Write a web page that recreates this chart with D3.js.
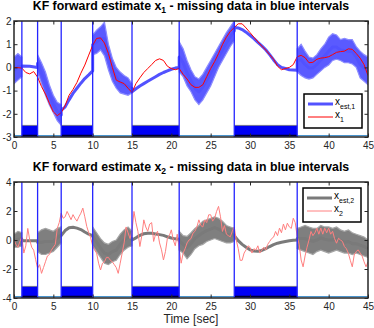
<!DOCTYPE html>
<html>
<head>
<meta charset="UTF-8">
<title>KF forward estimate</title>
<style>
  body { margin: 0; background: #fff; }
  svg { display: block; font-family: "Liberation Sans", Arial, sans-serif; }
  .axis text { font-size: 10px; fill: #262626; }
  .axis line { stroke: #262626; }
  .title { font-size: 12.3px; font-weight: bold; fill: #000; }
  .xlabel { font-size: 12px; fill: #262626; }
  .legend text { font-size: 10px; fill: #000; }
</style>
</head>
<body>
<script src="https://cdn.jsdelivr.net/npm/d3@7"></script>
<script>
// missing-data intervals [sec]
var gapStart = [1, 6, 15, 28];
var gapEnd   = [3, 10, 21, 36];

// true state x1, sampled every 0.5 s from 0 to 45
var x1Step = 0.5;
var x1 = [0.0, -0.01, -0.03, -0.22, -0.28, -0.18, -0.42, -0.83, -1.15, -1.55,
  -1.92, -2.08, -1.95, -1.65, -1.2, -0.95, -0.65, -0.25, 0.1, 0.53,
  0.95, 1.25, 1.27, 1.05, 0.6, 0.0, -0.55, -0.63, -0.7, -0.9,
  -1.08, -0.7, -0.45, -0.22, -0.05, 0.12, 0.3, 0.37, 0.3, 0.05,
  -0.05, -0.1, -0.05, -0.3, -0.5, -0.75, -0.86, -0.86, -0.75, -0.4,
  -0.05, 0.25, 0.6, 0.98, 1.3, 1.55, 1.72, 1.88, 1.88, 1.7,
  1.5, 1.3, 1.1, 0.92, 0.75, 0.55, 0.35, 0.05, -0.1, -0.05,
  0.0, 0.12, 0.46, 0.52, 0.42, 0.2, 0.22, 0.35, 0.4, 0.42,
  0.46, 0.55, 0.65, 0.68, 0.7, 0.8, 0.78, 0.6, 0.4, 0.12, -0.35];

// KF estimate of x1: time, lower and upper edge of the noisy trace
var est1T = [0, 0.5, 1, 1, 2, 3, 3, 3.5, 4, 4.5, 5, 5.5, 6,
  6, 6.5, 7, 7.5, 8, 8.5, 9, 9.5, 10,
  10, 10.5, 11, 11.5, 12, 12.5, 13, 13.5, 14, 14.5, 15,
  15, 15.5, 16, 16.5, 17, 17.5, 18, 18.5, 19, 19.5, 20, 20.5, 21,
  21, 21.5, 22, 22.5, 23, 23.5, 24, 24.5, 25, 25.5, 26, 26.5, 27, 27.5, 28,
  28, 28.5, 29, 29.5, 30, 30.5, 31, 31.5, 32, 32.5, 33, 33.5, 34, 34.5, 35, 35.5, 36,
  36, 36.5, 37, 37.5, 38, 38.5, 39, 39.5, 40, 40.5, 41, 41.5, 42, 42.5, 43, 43.5, 44, 44.5, 45];
var est1Lo = [-0.7, -0.55, -0.4, 0.06, 0.05, 0.0, -0.2, -0.7, -1.2, -1.62, -1.95, -2.3, -2.5,
  -1.85, -1.7, -1.4, -1.12, -0.9, -0.68, -0.48, -0.32, -0.15,
  0.55, 0.6, 0.75, 0.5, -0.1, -0.6, -0.9, -1.1, -1.15, -1.2, -1.1,
  -1.05, -0.92, -0.8, -0.7, -0.6, -0.5, -0.4, -0.3, -0.22, -0.15, -0.08, -0.03, 0.0,
  -0.2, -0.4, -0.8, -1.05, -1.4, -1.6, -1.4, -1.1, -0.8, -0.4, 0.0, 0.3, 0.6, 0.9, 1.15,
  1.72, 1.7, 1.63, 1.52, 1.38, 1.24, 1.08, 0.93, 0.76, 0.55, 0.32, 0.12, 0.0, -0.05, -0.1, -0.11, -0.12,
  -0.2, -0.35, -0.45, -0.5, -0.45, -0.3, -0.15, 0.0, 0.1, 0.3, 0.35, 0.3, 0.2, 0.2, 0.15, 0.0, -0.45, -0.6, -0.75];
var est1Hi = [0.45, 0.6, 0.45, 0.06, 0.05, 0.0, 0.55, 0.2, -0.2, -0.76, -1.2, -1.5, -1.6,
  -1.85, -1.7, -1.4, -1.12, -0.9, -0.68, -0.48, -0.32, -0.15,
  1.4, 1.6, 1.75, 1.95, 1.0, 0.4, 0.0, -0.2, -0.35, -0.45, -0.7,
  -1.05, -0.92, -0.8, -0.7, -0.6, -0.5, -0.4, -0.3, -0.22, -0.15, -0.08, -0.03, 0.0,
  1.1, 0.8, 0.3, -0.1, -0.4, -0.5, -0.3, 0.0, 0.3, 0.6, 0.9, 1.2, 1.5, 1.75, 2.0,
  1.72, 1.7, 1.63, 1.52, 1.38, 1.24, 1.08, 0.93, 0.76, 0.55, 0.32, 0.12, 0.0, -0.05, -0.1, -0.11, -0.12,
  0.8, 1.0, 0.7, 0.45, 0.4, 0.55, 0.8, 1.0, 1.3, 1.45, 1.4, 1.2, 1.25, 1.2, 1.2, 0.9, 0.7, 0.55, 0.45];

// true state x2, sampled every 0.25 s from 0 to 45
var x2Step = 0.25;
var x2 = [0.0, -0.3, -0.5, -0.1,  0.2, -0.9, -0.4, 0.8,  0.0, -0.5, -0.7, -1.35,
  -1.95, -1.7, -2.3, -1.9,  -1.5, -1.1, -1.0, -0.7,  -0.5, -0.3, 0.8, 1.2,
  1.85, 1.5, 1.6, 1.97,  1.7, 1.4, 1.75, 1.5,  1.3, 1.6, 1.85, 2.2,
  1.6, 0.93, 0.5, 0.15,  -0.4, -0.7, -0.9, -1.6,  -2.07, -1.6, -1.5, -1.2,
  -1.2, -1.4, -1.5, -1.7,  -1.9, -2.3, -1.6, -0.9,  -0.2, 0.9, 0.5, 0.1,
  0.6, 1.97, 1.2, 0.6,  -0.45, 0.3, 1.39, 0.9,  0.6, 1.1, 1.2, -0.1,
  0.4, 0.6, -0.2, -0.68,  -1.38, -0.8, 0.12, 0.3,  0.7, 0.0, -0.4, 0.4,
  -0.6, -1.6, -0.9, -0.6,  -0.2, 0.0, 0.1, 0.47,  0.6, 0.9, 1.39, 1.0,
  0.9, 1.39, 1.2, 1.74,  1.74, 1.3, 1.5, 1.97,  2.32, 1.6, 0.59, 1.0,
  0.4, 0.3, 0.22, 0.6,  0.9, 0.0, -0.58, -1.4,  -1.4, -0.9, -0.68, -0.4,
  -0.5, -0.9, -0.6, -0.7,  -0.4, -0.9, -0.7, -0.5,  -0.7, -0.3, -0.1, 0.1,
  0.2, 0.59, 0.3, 0.82,  0.5, 1.1, 0.7, 1.16,  0.9, 0.8, 1.5, 1.2,
  0.24, -0.3, -1.38, -1.85,  -1.1, -0.5, 0.0, 0.59,  0.3, 0.5, 0.82, 0.4,
  0.82, 0.4, 0.82, 0.5,  0.82, 0.4, 0.6, 0.1,  -0.22, 0.12, 0.0, -0.1,
  -0.45, -0.6, -0.91, -1.4,  -1.85, -1.03, -0.8, -0.68,  -0.9, -1.1, -1.5, -1.85,
  -1.5];

// KF estimate of x2: time, lower and upper edge of the noisy trace
var est2T = [0, 0.5, 1, 1, 3, 3, 3.5, 4, 4.5, 5, 5.5, 6,
  6, 6.5, 7, 7.5, 8, 8.5, 9, 9.5, 10,
  10, 10.5, 11, 11.5, 12, 12.5, 13, 13.5, 14, 14.5, 15,
  15, 15.5, 16, 16.5, 17, 17.5, 18, 18.5, 19, 19.5, 20, 20.5, 21,
  21, 21.5, 22, 22.5, 23, 23.5, 24, 24.5, 25, 25.5, 26, 26.5, 27, 27.5, 28,
  28, 28.5, 29, 29.5, 30, 30.5, 31, 31.5, 32, 32.5, 33, 33.5, 34, 34.5, 35, 35.5, 36,
  36, 36.5, 37, 37.5, 38, 38.5, 39, 39.5, 40, 40.5, 41, 41.5, 42, 42.5, 43, 43.5, 44, 44.5, 45];
var est2Lo = [-0.5, -0.5, -0.4, -0.05, -0.05, -0.8, -1.0, -1.0, -0.9, -0.8, -0.5, -0.2,
  0.3, 0.65, 0.85, 0.88, 0.82, 0.72, 0.55, 0.4, 0.3,
  -0.4, -0.8, -1.2, -1.6, -1.7, -1.5, -1.4, -1.0, -0.7, -0.5, -0.4,
  0.0, 0.15, 0.32, 0.43, 0.47, 0.47, 0.42, 0.37, 0.32, 0.22, 0.14, 0.08, 0.05,
  -0.7, -0.9, -1.3, -1.0, -0.6, -0.4, -0.3, -0.1, 0.0, 0.1, 0.0, -0.1, -0.2, -0.2, -0.1,
  0.3, -0.05, -0.3, -0.5, -0.68, -0.76, -0.78, -0.72, -0.6, -0.45, -0.32, -0.22, -0.15, -0.1, -0.05, -0.02, 0.0,
  -0.6, -0.7, -0.8, -0.9, -1.0, -0.8, -0.7, -0.8, -0.9, -0.8, -0.7, -0.8, -0.9, -0.9, -1.0, -0.9, -1.0, -1.1, -1.2];
var est2Hi = [0.4, 0.6, 0.5, -0.05, -0.05, 0.5, 0.7, 0.8, 0.7, 0.6, 0.8, 0.9,
  0.3, 0.65, 0.85, 0.88, 0.82, 0.72, 0.55, 0.4, 0.3,
  0.9, 0.5, 0.1, -0.2, -0.3, -0.1, 0.0, 0.4, 0.7, 0.9, 0.6,
  0.0, 0.15, 0.32, 0.43, 0.47, 0.47, 0.42, 0.37, 0.32, 0.22, 0.14, 0.08, 0.05,
  0.6, 0.3, 0.25, 0.5, 0.8, 1.0, 1.3, 1.4, 1.5, 1.6, 1.5, 1.3, 1.0, 0.9, 0.8,
  0.3, -0.05, -0.3, -0.5, -0.68, -0.76, -0.78, -0.72, -0.6, -0.45, -0.32, -0.22, -0.15, -0.1, -0.05, -0.02, 0.0,
  0.8, 0.9, 1.0, 0.9, 0.8, 0.8, 1.0, 0.9, 0.9, 0.8, 0.9, 0.7, 0.6, 0.7, 0.5, 0.4, 0.3, 0.2, 0.0];

var xTicks = [0, 5, 10, 15, 20, 25, 30, 35, 40, 45];
var y1Ticks = [-3, -2, -1, 0, 1, 2];
var y2Ticks = [-4, -2, 0, 2, 4];

var W = 374, H = 328;
var left = 14, right = 368;

var svg = d3.select("body").append("svg")
    .attr("width", W)
    .attr("height", H);

var x = d3.scaleLinear().domain([0, 45]).range([left, right]);
var fmt = function (d) { return String(d); };   // plain hyphen minus, like MATLAB

function panel(opt) {
    var y = d3.scaleLinear().domain(opt.yDomain).range([opt.bottom, opt.top]);
    var g = svg.append("g");
    var clipId = "clip" + opt.id;

    g.append("clipPath").attr("id", clipId)
      .append("rect")
        .attr("x", left).attr("y", opt.top)
        .attr("width", right - left).attr("height", opt.bottom - opt.top);

    var plot = g.append("g").attr("clip-path", "url(#" + clipId + ")");

    // estimate: noisy band plus thick centre line
    var est = opt.estT.map(function (t, i) {
        return {t: t, lo: opt.estLo[i], hi: opt.estHi[i]};
    });
    plot.append("path")
        .datum(est)
        .attr("fill", opt.estBand)
        .attr("stroke", opt.estEdge)
        .attr("stroke-width", 1.2)
        .attr("d", d3.area()
            .x(function (d) { return x(d.t); })
            .y0(function (d) { return y(d.lo); })
            .y1(function (d) { return y(d.hi); }));
    plot.append("path")
        .datum(est)
        .attr("fill", "none")
        .attr("stroke", opt.estColor)
        .attr("stroke-width", 3)
        .attr("stroke-linejoin", "round")
        .attr("d", d3.line()
            .x(function (d) { return x(d.t); })
            .y(function (d) { return y((d.lo + d.hi) / 2); }));

    // true state
    plot.append("path")
        .datum(opt.trueVals)
        .attr("fill", "none")
        .attr("stroke", opt.trueColor)
        .attr("stroke-width", 1)
        .attr("d", d3.line()
            .x(function (d, i) { return x(i * opt.trueStep); })
            .y(function (d) { return y(d); }));

    // missing-data indicator
    var base = opt.yDomain[0];
    plot.append("line")
        .attr("x1", x(0)).attr("x2", x(45))
        .attr("y1", y(base) - 1.3).attr("y2", y(base) - 1.3)
        .attr("stroke", "#4a94cc").attr("stroke-width", 1.2);
    gapStart.forEach(function (s, i) {
        plot.append("rect")
            .attr("x", x(s)).attr("y", y(opt.barTop))
            .attr("width", x(gapEnd[i]) - x(s))
            .attr("height", y(base) - y(opt.barTop))
            .attr("fill", "#0000f5");
        plot.append("line")
            .attr("x1", x(s)).attr("x2", x(gapEnd[i]))
            .attr("y1", y(opt.barTop)).attr("y2", y(opt.barTop))
            .attr("stroke", "#777").attr("stroke-width", 0.8);
        plot.append("line")
            .attr("x1", x(s)).attr("x2", x(gapEnd[i]))
            .attr("y1", y(base) - 1.5).attr("y2", y(base) - 1.5)
            .attr("stroke", "#000030").attr("stroke-width", 1.5);
    });
    gapStart.concat(gapEnd).forEach(function (t) {
        plot.append("line")
            .attr("x1", x(t)).attr("x2", x(t))
            .attr("y1", opt.top).attr("y2", opt.bottom)
            .attr("stroke", "#2424ff").attr("stroke-width", 1.3);
    });

    // axes, MATLAB style ticks pointing inward
    g.append("g").attr("class", "axis")
        .attr("transform", "translate(0," + opt.bottom + ")")
        .call(d3.axisBottom(x).tickValues(xTicks).tickFormat(fmt)
            .tickSizeInner(-3.5).tickSizeOuter(0).tickPadding(5))
        .call(function (a) { a.select(".domain").remove(); });
    g.append("g").attr("class", "axis")
        .attr("transform", "translate(0," + opt.top + ")")
        .call(d3.axisTop(x).tickValues(xTicks).tickSizeInner(-3.5).tickSizeOuter(0).tickFormat(""))
        .call(function (a) { a.select(".domain").remove(); });
    g.append("g").attr("class", "axis")
        .attr("transform", "translate(" + left + ",0)")
        .call(d3.axisLeft(y).tickValues(opt.yTicks).tickFormat(fmt)
            .tickSizeInner(-3.5).tickSizeOuter(0).tickPadding(2.5))
        .call(function (a) { a.select(".domain").remove(); });
    g.append("g").attr("class", "axis")
        .attr("transform", "translate(" + right + ",0)")
        .call(d3.axisRight(y).tickValues(opt.yTicks).tickSizeInner(-3.5).tickSizeOuter(0).tickFormat(""))
        .call(function (a) { a.select(".domain").remove(); });

    g.append("rect")
        .attr("x", left).attr("y", opt.top)
        .attr("width", right - left).attr("height", opt.bottom - opt.top)
        .attr("fill", "none").attr("stroke", "#262626").attr("stroke-width", 1.5);

    // title
    var title = g.append("text").attr("class", "title")
        .attr("x", (left + right) / 2).attr("y", opt.titleY)
        .attr("text-anchor", "middle");
    title.append("tspan").text("KF forward estimate x");
    title.append("tspan").attr("dy", 3).attr("font-size", "8.5px").text(opt.sub);
    title.append("tspan").attr("dy", -3).text(" - missing data in blue intervals");

    // legend
    var lg = g.append("g").attr("class", "legend");
    lg.append("rect")
        .attr("x", opt.leg[0]).attr("y", opt.leg[1])
        .attr("width", 58).attr("height", 34)
        .attr("fill", "#fff").attr("stroke", "#000").attr("stroke-width", 1.5);
    var items = [
        {color: opt.estColor, w: 3, sub: opt.estSub, dy: 10},
        {color: opt.trueColor, w: 1, sub: opt.sub, dy: 23}
    ];
    items.forEach(function (it) {
        var ly = opt.leg[1] + it.dy;
        lg.append("line")
            .attr("x1", opt.leg[0] + 4).attr("x2", opt.leg[0] + 29)
            .attr("y1", ly).attr("y2", ly)
            .attr("stroke", it.color).attr("stroke-width", it.w);
        var t = lg.append("text").attr("x", opt.leg[0] + 31).attr("y", ly + 1);
        t.append("tspan").text("x");
        t.append("tspan").attr("dy", 3.5).attr("font-size", "7px").text(it.sub);
    });
}

panel({
    id: 1, top: 21, bottom: 137, yDomain: [-3, 2], yTicks: y1Ticks, barTop: -2.5,
    estT: est1T, estLo: est1Lo, estHi: est1Hi,
    estColor: "#5252ff", estBand: "#5a5aff", estEdge: "#8c8cff",
    trueVals: x1, trueStep: x1Step, trueColor: "#ff0000",
    sub: "1", estSub: "est,1", titleY: 10, leg: [304, 94]
});

panel({
    id: 2, top: 182, bottom: 298, yDomain: [-4, 4], yTicks: y2Ticks, barTop: -3.2,
    estT: est2T, estLo: est2Lo, estHi: est2Hi,
    estColor: "#7a7a7a", estBand: "#7f7f7f", estEdge: "#a5a5a5",
    trueVals: x2, trueStep: x2Step, trueColor: "#ff8080",
    sub: "2", estSub: "est,2", titleY: 171, leg: [303, 188]
});

svg.append("text").attr("class", "xlabel")
    .attr("x", (left + right) / 2).attr("y", 323)
    .attr("text-anchor", "middle")
    .text("Time [sec]");
</script>
</body>
</html>
